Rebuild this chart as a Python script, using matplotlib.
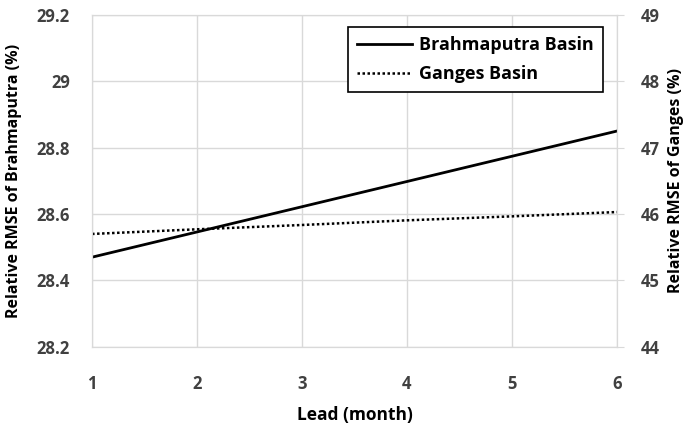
import matplotlib
matplotlib.use("Agg")
import matplotlib.pyplot as plt
import numpy as np

lead = [1, 2, 3, 4, 5, 6]
brahmaputra = [28.47, 28.546, 28.622, 28.698, 28.774, 28.85]
ganges = [45.70, 45.77, 45.835, 45.905, 45.965, 46.03]

left_ticks = [28.2, 28.4, 28.6, 28.8, 29.0, 29.2]
left_labels = ["28.2", "28.4", "28.6", "28.8", "29", "29.2"]
right_ticks = [44, 45, 46, 47, 48, 49]

plt.rcParams['font.family'] = ['Open Sans', 'DejaVu Sans']
plt.rcParams['font.weight'] = 'bold'

fig = plt.figure(figsize=(6.87, 4.25), dpi=100)
ax = fig.add_axes([0.134, 0.184, 0.764, 0.781])
ax2 = ax.twinx()

tc = '#404040'
gc = '#d9d9d9'

l1, = ax.plot(lead, brahmaputra, color='black', lw=2.0, label='Brahmaputra Basin')
l2, = ax2.plot(lead, ganges, color='black', lw=1.8, ls=(0, (1, 1)), label='Ganges Basin')

ax.set_xlim(1, 6)
ax.set_ylim(28.2, 29.2)
ax2.set_ylim(44, 49)
ax.set_xticks(lead)
ax.set_yticks(left_ticks)
ax.set_yticklabels(left_labels)
ax2.set_yticks(right_ticks)

ax.grid(True, color=gc, lw=1)
ax.set_axisbelow(True)
for a in (ax, ax2):
    for s in a.spines.values():
        s.set_color(gc)
ax.tick_params(axis='y', length=0, colors=tc, labelsize=12, pad=16)
ax.tick_params(axis='x', length=0, colors=tc, labelsize=12, pad=20)
ax2.tick_params(axis='y', length=5, color=gc, colors=tc, labelsize=12, pad=12)
for lab in ax.get_xticklabels() + ax.get_yticklabels() + ax2.get_yticklabels():
    lab.set_fontweight('bold')
    lab.set_color(tc)

ax.set_xlabel('Lead (month)', fontsize=12.5, fontweight='bold', color='black', labelpad=10)
ax.set_ylabel('Relative RMSE of Brahmaputra (%)', fontsize=11.5, fontweight='bold', color='black', labelpad=10)
ax2.set_ylabel('Relative RMSE of Ganges (%)', fontsize=11.5, fontweight='bold', color='black', labelpad=6)

leg = ax2.legend(handles=[l1, l2], loc='upper right', bbox_to_anchor=(0.99, 0.99),
                 fontsize=13, frameon=True, fancybox=False, framealpha=1,
                 edgecolor='black', handlelength=3.0, handletextpad=0.4, borderpad=0.5,
                 labelspacing=0.6)
leg.get_frame().set_linewidth(1.2)
for t in leg.get_texts():
    t.set_fontweight('bold')

fig.savefig('out.png', dpi=100)
